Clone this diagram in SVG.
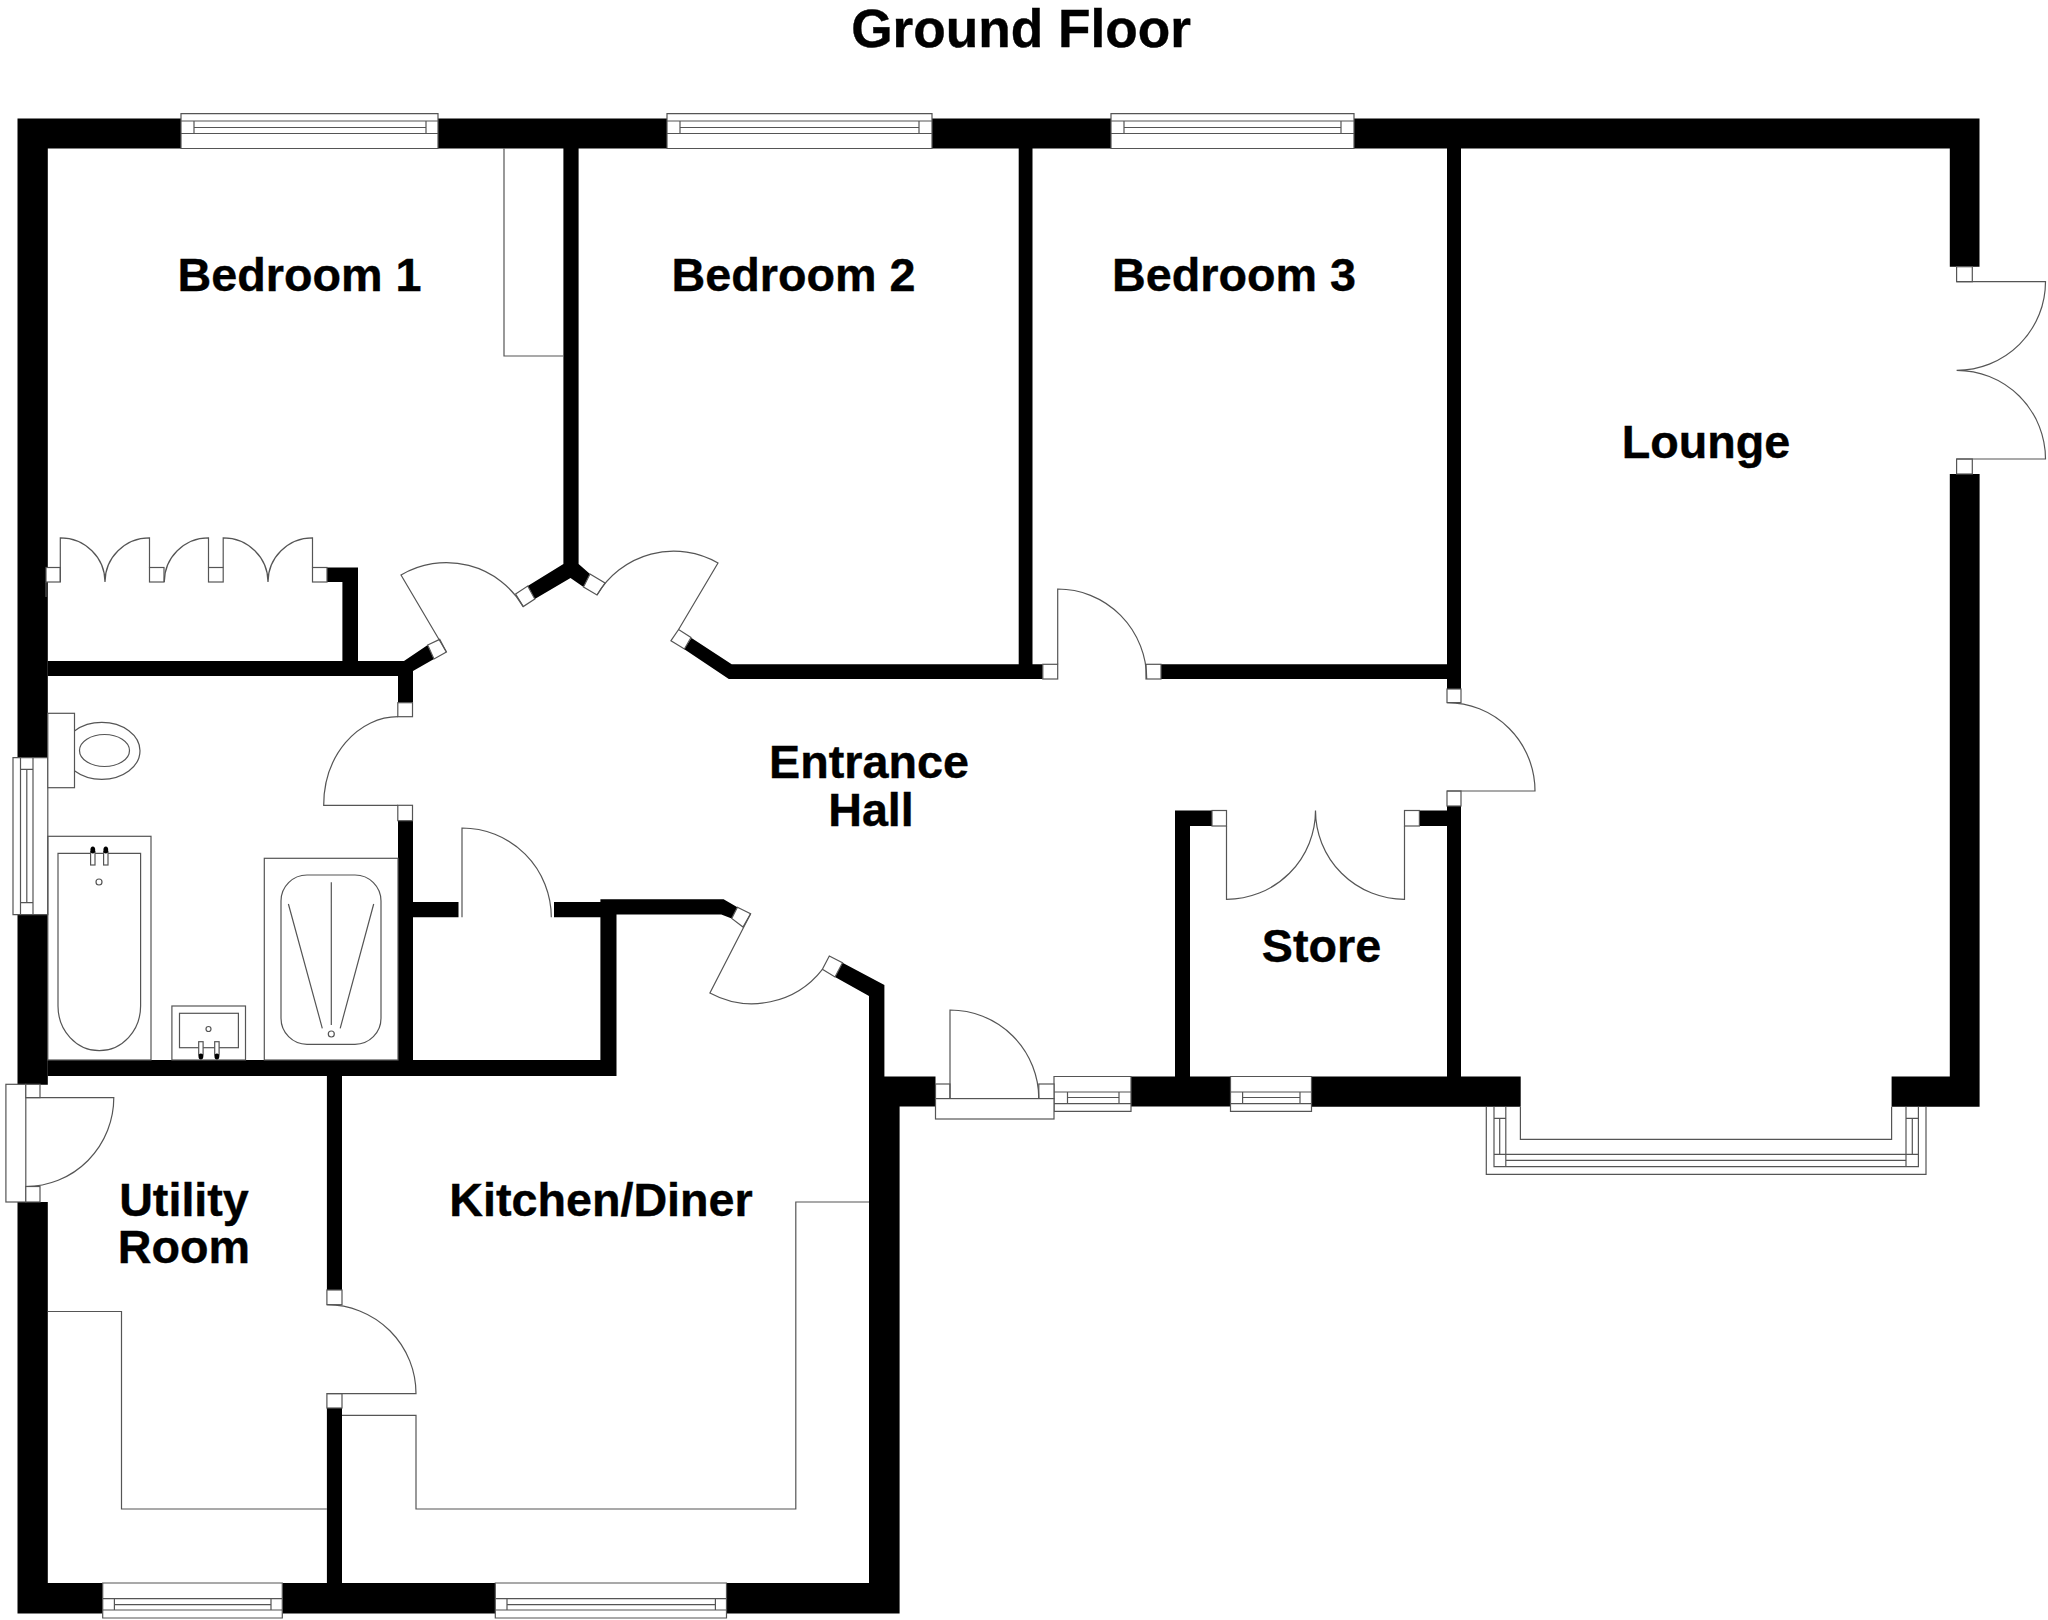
<svg xmlns="http://www.w3.org/2000/svg" width="2048" height="1620" viewBox="0 0 2048 1620">
<style>
.w{fill:#000}
.l{fill:none;stroke:#555;stroke-width:1.2}
.f{fill:#fff;stroke:#555;stroke-width:1.2}
.t{font-family:"Liberation Sans",Arial,sans-serif;font-weight:700;font-size:46.7px;fill:#000;stroke:#000;stroke-width:.4;text-anchor:middle}
</style>
<rect width="2048" height="1620" fill="#fff"/>
<g id="walls">
<path class="w" d="M17.5 118.5H181V148.5H47.8V757.7H17.5ZM438 118.5H667V148.5H438ZM932 118.5H1111V148.5H932ZM1354 118.5H1979.5V266.7H1949.8V148.5H1354Z"/>
<path class="w" d="M17.5 914.7H47.8V1084.7H17.5ZM17.5 1202H47.8V1583H102.7V1613.6H17.5ZM282.3 1583H495.3V1613.6H282.3Z"/>
<path class="w" d="M842.5 962.8L884.4 985V1076.5H935.5V1106.5H899.6V1613.6H726.5V1583H869V996L835 977Z"/>
<path class="w" d="M1131 1076.5H1175V810.5H1212V826H1190V1076.5H1230.5V1106.5H1131ZM1311.5 1076.5H1447V806H1461V1076.5H1520.7V1106.7H1311.5ZM1419.4 810.5H1447V826H1419.4Z"/>
<path class="w" d="M1949.8 474H1979.6V1106.7H1891.6V1076.4H1949.8Z"/>
<path class="w" d="M563.4 148H578.6V564L590 574L583.5 587L570.5 578L534.8 599L527.7 586L563.4 564Z"/>
<path class="w" d="M47.8 661H342.4V582H327V567.5H358V661H404L427.7 645L434 659L413 671V702.7H398V676H47.8Z"/>
<path class="w" d="M691.5 638L731.7 664.3H1018.7V148H1032.5V664.3H1042.8V679H728.8L684 649Z"/>
<path class="w" d="M1161 664.3H1447V148H1461V689H1447V679H1161Z"/>
<path class="w" d="M398 820.7H413V902H458.5V917.3H413V1060H600.4V917.3H554V902H600.4V899.3H723.6L737.4 907.3L731.7 918.4L721.3 914.6H616.5V1076H342V1290H326.9V1076H47.8V1060H398Z"/>
<rect class="w" x="326.9" y="1408" width="15.1" height="175"/>
</g>
<g id="windows">
<path class="f" d="M181 113.7H438V148.5H181Z"/><path class="l" d="M181 121H438M194 121V133.5M426 121V133.5M181 133.5H438M194 127.5H426"/>
<path class="f" d="M667 113.7H932V148.5H667Z"/><path class="l" d="M667 121H932M680 121V133.5M919 121V133.5M667 133.5H932M680 127.5H919"/>
<path class="f" d="M1111 113.7H1354V148.5H1111Z"/><path class="l" d="M1111 121H1354M1124 121V133.5M1341 121V133.5M1111 133.5H1354M1124 127.5H1341"/>
<path class="f" d="M13 757.7H47.8V914.7H13Z"/><path class="l" d="M20.5 757.7V914.7M33 757.7V914.7M26.8 769.3V902.7M20.5 769.3H33M20.5 902.7H33"/>
<path class="f" d="M102.7 1583H282.3V1618H102.7Z"/><path class="l" d="M102.7 1598.6H282.3M102.7 1610H282.3M114.4 1598.6V1610M271 1598.6V1610M114.4 1604.6H271"/>
<path class="f" d="M495.3 1583H726.5V1618H495.3Z"/><path class="l" d="M495.3 1598.6H726.5M495.3 1610H726.5M507 1598.6V1610M715.4 1598.6V1610M507 1604.6H715.4"/>
<path class="f" d="M1054 1076.5H1131V1111.3H1054Z"/><path class="l" d="M1054 1092H1131M1054 1103.6H1131M1067.5 1092V1103.6M1119 1092V1103.6M1067.5 1097.5H1119"/>
<path class="f" d="M1230.5 1076.5H1311.5V1111.3H1230.5Z"/><path class="l" d="M1230.5 1092H1311.5M1230.5 1103.6H1311.5M1242.6 1092V1103.6M1300 1092V1103.6M1242.6 1097.5H1300"/>
<path class="l" d="M1486.3 1106.7V1174.3H1926V1106.7M1520.4 1106.7V1139.3H1891.6V1106.7M1494 1106.7V1166.7H1918.4V1106.7M1505.8 1106.7V1166.7M1906 1106.7V1166.7M1494 1118.3H1505.8M1906 1118.3H1918.4M1499.7 1118.3V1154.3M1912.3 1118.3V1154.3M1494 1154.3H1918.4M1505.8 1160.3H1906"/>
</g>
<g id="doors">
<rect class="f" x="46" y="567.5" width="14.3" height="14.5"/><rect class="f" x="149.5" y="567.5" width="14.5" height="14.5"/><rect class="f" x="208.5" y="567.5" width="14.7" height="14.5"/><rect class="f" x="312.5" y="567.5" width="14.5" height="14.5"/>
<path class="l" d="M46 582V597M60.3 582V537.8A44.7 44.2 0 0 1 105 582A44.5 44.2 0 0 1 149.5 537.8V567.5M164.3 582A44.2 44.2 0 0 1 208.5 537.8V567.5M223.2 567.5V537.8A44.8 44.2 0 0 1 268 582A44.5 44.2 0 0 1 312.5 537.8V567.5"/>
<path class="f" d="M427.7 645L439.7 639.4L446.4 652L434 659Z"/><path class="f" d="M515.6 594L527.7 586L534.8 599L523.2 606.6Z"/>
<path class="l" d="M446.4 652L401 575A89 89 0 0 1 523.2 606.6"/>
<path class="f" d="M590 574L605 583L597 595L583.5 587Z"/><path class="f" d="M671 640.7L678.6 629.5L691 637.5L684.4 649Z"/>
<path class="l" d="M678.6 629.5L718 563A89 89 0 0 0 597 595"/>
<rect class="f" x="1042.8" y="664.3" width="14.9" height="14.7"/><rect class="f" x="1146" y="664.3" width="15" height="14.7"/>
<path class="l" d="M1057.7 664.3V589A89 90 0 0 1 1146.7 679"/>
<rect class="f" x="1447" y="689" width="14" height="13.6"/><rect class="f" x="1447" y="791" width="14" height="15"/>
<path class="l" d="M1447 702.6A88 88.4 0 0 1 1535 791H1447"/>
<rect class="f" x="1212" y="810.5" width="14.5" height="15.5"/><rect class="f" x="1404.5" y="810.5" width="14.9" height="15.5"/>
<path class="l" d="M1226.5 826V899.3A89 88.8 0 0 0 1315.5 810.5A89 88.8 0 0 0 1404.5 899.3V826"/>
<rect class="f" x="397.8" y="702.7" width="14.7" height="14"/><rect class="f" x="397.8" y="805.3" width="14.7" height="15.4"/>
<path class="l" d="M398 716.7A74.3 88.6 0 0 0 323.7 805.3H398"/>
<path class="l" d="M462 917.3V828A89.3 89.3 0 0 1 551.3 917.3"/>
<path class="f" d="M737.4 907.3L750.6 913.8L743 927L731.7 918.4Z"/><path class="f" d="M829.3 956L842.5 962.8L835 977L822.4 969.3Z"/>
<path class="l" d="M750.6 913.8L709.9 993A89 89 0 0 0 822.4 969.3"/>
<rect class="f" x="935.5" y="1084" width="14.5" height="14.6"/><rect class="f" x="1038.8" y="1084" width="15.2" height="14.6"/><rect class="f" x="935.5" y="1098.6" width="118.5" height="20.4"/>
<path class="l" d="M950 1098.6V1010A88.8 88.6 0 0 1 1038.8 1098.6"/>
<rect class="f" x="5.9" y="1084.3" width="19.9" height="117.7"/><rect class="f" x="25.8" y="1084.3" width="14.2" height="13.3"/><rect class="f" x="25.8" y="1186.5" width="14.2" height="15.5"/>
<path class="l" d="M25.8 1097.6H113.8A88 88.9 0 0 1 25.8 1186.5"/>
<rect class="f" x="326.9" y="1290" width="15.1" height="14.7"/><rect class="f" x="326.9" y="1393.6" width="15.1" height="14.4"/>
<path class="l" d="M326.9 1304.7A89.1 88.9 0 0 1 416 1393.6H326.9"/>
<rect class="f" x="1956.6" y="266.7" width="15.7" height="15"/><rect class="f" x="1956.6" y="459" width="15.7" height="15"/>
<path class="l" d="M1956.6 281.7H2045.5A88.9 88.6 0 0 1 1956.6 370.3A88.9 88.7 0 0 1 2045.5 459H1956.6"/>
</g>
<g id="fittings">
<path class="l" d="M504 148.5V356H563.4"/>
<path class="l" d="M869 1202H795.8V1509H416V1415.4H342"/>
<path class="l" d="M47.8 1311.5H121.5V1509H326.9"/>
</g>
<g id="bathroom">
<ellipse class="l" cx="101.8" cy="750.8" rx="38.2" ry="28.5"/><ellipse class="l" cx="104.5" cy="750.5" rx="25" ry="16"/>
<rect class="f" x="47.8" y="713.3" width="26.7" height="74.4"/>
<rect class="l" x="47.8" y="836.3" width="103.2" height="223.7"/>
<path class="l" d="M58 853.3H140.6V1006A41.3 44.7 0 0 1 58 1006Z"/>
<rect class="f" x="90.6" y="851.7" width="4.4" height="13.3"/><rect class="f" x="103.6" y="851.7" width="4.4" height="13.3"/>
<ellipse class="w" cx="92.8" cy="850" rx="2.4" ry="3.5"/><ellipse class="w" cx="105.8" cy="850" rx="2.4" ry="3.5"/>
<circle class="l" cx="99" cy="882" r="3"/>
<rect class="l" x="171.9" y="1006" width="73.6" height="54"/>
<rect class="l" x="179.5" y="1013.3" width="58.9" height="34.4"/>
<circle class="l" cx="208.5" cy="1029" r="2.5"/>
<rect class="f" x="198.7" y="1041.7" width="4.4" height="13.3"/><rect class="f" x="214.7" y="1041.7" width="4.4" height="13.3"/>
<ellipse class="w" cx="200.9" cy="1056.5" rx="2.4" ry="3"/><ellipse class="w" cx="216.9" cy="1056.5" rx="2.4" ry="3"/>
<rect class="l" x="264.3" y="858.3" width="133.7" height="201.7"/>
<rect class="l" x="281" y="875" width="100" height="169.3" rx="26" ry="26"/>
<path class="l" d="M331.3 882.3V1025M288.4 904L322.3 1028.3M373.7 904L340.2 1028.3"/>
<circle class="l" cx="331.3" cy="1034" r="3"/>
</g>
<g id="labels">
<text class="t" x="1021" y="47" style="font-size:53.2px">Ground Floor</text>
<text class="t" x="299.5" y="291">Bedroom 1</text>
<text class="t" x="793.5" y="291">Bedroom 2</text>
<text class="t" x="1234" y="291">Bedroom 3</text>
<text class="t" x="1706" y="458">Lounge</text>
<text class="t" x="869" y="778">Entrance</text>
<text class="t" x="871" y="825.6">Hall</text>
<text class="t" x="1321.5" y="961.6">Store</text>
<text class="t" x="184" y="1216">Utility</text>
<text class="t" x="184" y="1263">Room</text>
<text class="t" x="601" y="1216">Kitchen/Diner</text>
</g>
</svg>
